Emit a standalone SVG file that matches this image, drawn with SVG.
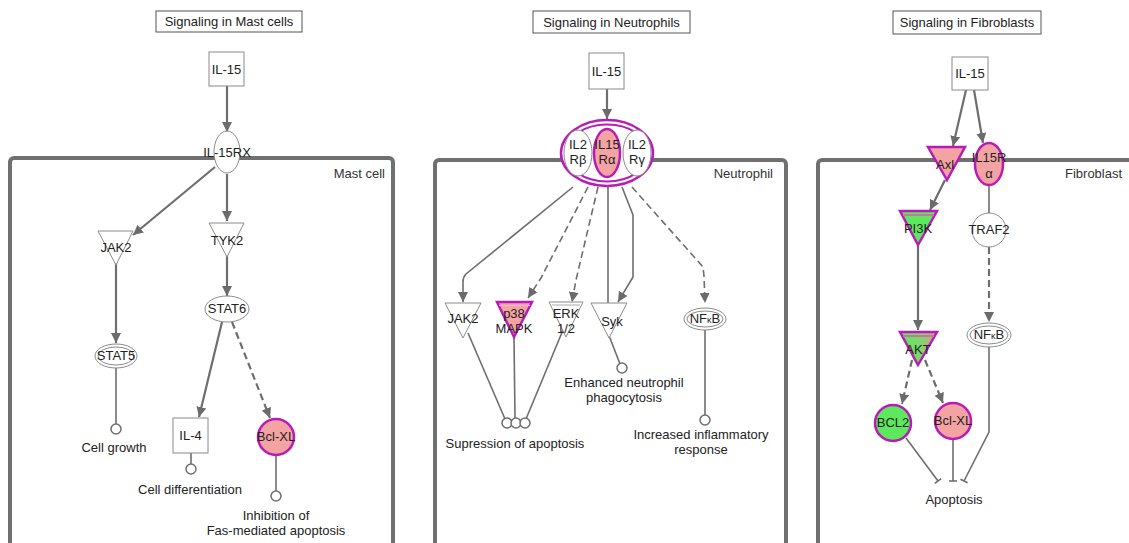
<svg xmlns="http://www.w3.org/2000/svg" width="1129" height="543" viewBox="0 0 1129 543">
<style>
text{font-family:"Liberation Sans",Arial,sans-serif;font-size:13px;fill:#222;text-anchor:middle}
.lbl{font-size:13px;fill:#333}
.cell{fill:none;stroke:#707070;stroke-width:4}
.box{fill:#fff;stroke:#555;stroke-width:1}
.node{fill:#fff;stroke:#8a8a8a;stroke-width:1}
.hi{fill:#f4a3a3;stroke:#b81cb8;stroke-width:2.5}
.gr{fill:#5ee85e;stroke:#b81cb8;stroke-width:2.5}
.e{fill:none;stroke:#6e6e6e;stroke-width:1.6}
.e2{fill:none;stroke:#6e6e6e;stroke-width:2.2}
.d{stroke-dasharray:7,4}
.end{fill:#fff;stroke:#6e6e6e;stroke-width:1.5}
</style>
<defs>
<marker id="arr" viewBox="0 0 10 10" refX="10" refY="5" markerWidth="10" markerHeight="10" markerUnits="userSpaceOnUse" orient="auto"><path d="M0,0 L10,5 L0,10 z" fill="#6b6b6b"/></marker>
<linearGradient id="akt" x1="0" y1="0" x2="1" y2="0"><stop offset="0" stop-color="#5ee85e"/><stop offset="0.55" stop-color="#7fd86a"/><stop offset="1" stop-color="#d89a8a"/></linearGradient>
</defs>
<rect width="1129" height="543" fill="#fff"/>

<!-- cell compartments -->
<g id="compartments">
<rect class="cell" x="10" y="158" width="383" height="420" rx="4"/>
<text class="lbl" x="385" y="178" style="text-anchor:end">Mast cell</text>
<rect class="cell" x="435" y="160" width="351" height="420" rx="4"/>
<text class="lbl" x="773" y="178" style="text-anchor:end">Neutrophil</text>
<rect class="cell" x="818" y="160" width="400" height="420" rx="4"/>
<text class="lbl" x="1065" y="178" style="text-anchor:start">Fibroblast</text>
</g>

<!-- titles -->
<g id="titles">
<rect class="box" x="156" y="11" width="146" height="21"/>
<text x="229" y="26">Signaling in Mast cells</text>
<rect class="box" x="533" y="11" width="157" height="22"/>
<text x="611.5" y="26.5">Signaling in Neutrophils</text>
<rect class="box" x="893" y="11" width="148" height="23"/>
<text x="967" y="27">Signaling in Fibroblasts</text>
</g>

<!-- connectors -->
<g id="connectors">
<!-- mast -->
<line class="e2" x1="227" y1="86" x2="227" y2="132" marker-end="url(#arr)"/>
<line class="e2" x1="215" y1="167" x2="133" y2="235" marker-end="url(#arr)"/>
<line class="e2" x1="227" y1="174" x2="227" y2="221" marker-end="url(#arr)"/>
<line class="e2" x1="116" y1="262" x2="116" y2="343" marker-end="url(#arr)"/>
<line class="e2" x1="227" y1="255" x2="227" y2="296" marker-end="url(#arr)"/>
<line class="e" x1="116" y1="368" x2="116" y2="424"/>
<line class="e2" x1="222" y1="322" x2="199" y2="417" marker-end="url(#arr)"/>
<line class="e2 d" x1="232" y1="322" x2="270" y2="418" marker-end="url(#arr)"/>
<line class="e" x1="191" y1="453" x2="191" y2="464"/>
<line class="e" x1="276" y1="455" x2="276" y2="491"/>
<!-- neutrophil -->
<line class="e2" x1="607" y1="89" x2="607" y2="119" marker-end="url(#arr)"/>
<path class="e" d="M573,187 L466,274 Q463,277 463,282 L463,302" marker-end="url(#arr)"/>
<path class="e d" d="M588,187 L541,278 L528,298" marker-end="url(#arr)"/>
<path class="e d" d="M598,187 L576,280 L572,302" marker-end="url(#arr)"/>
<line class="e" x1="608" y1="187" x2="608" y2="303"/>
<path class="e" d="M622,187 L633,215 L633,277 L618,302" marker-end="url(#arr)"/>
<path class="e d" d="M632,187 L703,267 L704,276 L705,303" marker-end="url(#arr)"/>
<line class="e" x1="468" y1="333" x2="505" y2="419"/>
<line class="e" x1="514" y1="337" x2="515" y2="418"/>
<line class="e" x1="563" y1="330" x2="526" y2="419"/>
<line class="e" x1="608" y1="333" x2="620" y2="364"/>
<line class="e" x1="705" y1="330" x2="705" y2="415"/>
<!-- fibroblast -->
<line class="e2" x1="966" y1="90" x2="953" y2="146" marker-end="url(#arr)"/>
<line class="e2" x1="974" y1="90" x2="983" y2="143" marker-end="url(#arr)"/>
<line class="e2" x1="945" y1="180" x2="930" y2="210" marker-end="url(#arr)"/>
<line class="e" x1="989" y1="185" x2="989" y2="213"/>
<line class="e2" x1="918" y1="245" x2="918" y2="330" marker-end="url(#arr)"/>
<line class="e2 d" x1="989" y1="247" x2="989" y2="322" marker-end="url(#arr)"/>
<line class="e2 d" x1="912" y1="360" x2="902" y2="404" marker-end="url(#arr)"/>
<line class="e2 d" x1="925" y1="360" x2="943" y2="403" marker-end="url(#arr)"/>
<line class="e" x1="906" y1="438" x2="938" y2="481"/>
<line class="e" x1="934.8" y1="483.4" x2="941.2" y2="478.6"/>
<line class="e" x1="953" y1="439" x2="953" y2="481"/>
<line class="e" x1="949" y1="481" x2="957" y2="481"/>
<path class="e" d="M989,347 L989,432 L964,481"/>
<line class="e" x1="960.4" y1="479.2" x2="967.6" y2="482.8"/>
</g>

<!-- Mast cell nodes -->
<g id="mast-il15"><rect class="node" x="209" y="52" width="35" height="34"/><text x="226.5" y="74">IL-15</text></g>
<g id="mast-il15rx"><ellipse class="node" cx="227" cy="152" rx="13" ry="21"/><text x="227" y="157">IL-15RX</text></g>
<g id="mast-jak2"><polygon class="node" points="98,231 133,231 116,265"/><text x="116" y="252">JAK2</text></g>
<g id="mast-tyk2"><polygon class="node" points="209,223 244,223 227,257"/><text x="227" y="245">TYK2</text></g>
<g id="mast-stat5"><ellipse class="node" cx="116" cy="356" rx="21" ry="12"/><ellipse class="node" cx="116" cy="356" rx="18" ry="9"/><text x="116" y="360">STAT5</text></g>
<g id="mast-stat6"><ellipse class="node" cx="227" cy="309" rx="22" ry="13"/><text x="227" y="313">STAT6</text></g>
<g id="mast-il4"><rect class="node" x="173" y="418" width="35" height="35"/><text x="190.5" y="440">IL-4</text></g>
<g id="mast-bclxl"><circle class="hi" cx="276" cy="437" r="18"/><text x="276" y="441">Bcl-XL</text></g>
<g id="mast-cellgrowth"><circle class="end" cx="116" cy="429" r="5"/><text x="114" y="452">Cell growth</text></g>
<g id="mast-celldiff"><circle class="end" cx="191" cy="469" r="5"/><text x="190" y="494">Cell differentiation</text></g>
<g id="mast-inhib"><circle class="end" cx="276" cy="496" r="5"/><text x="276" y="520">Inhibition of</text><text x="276" y="535">Fas-mediated apoptosis</text></g>

<!-- Neutrophil nodes -->
<g id="neu-il15"><rect class="node" x="589" y="53" width="35" height="36"/><text x="606.5" y="76">IL-15</text></g>
<g id="neu-complex">
<ellipse cx="607" cy="153" rx="46" ry="33" fill="#fff" stroke="#b81cb8" stroke-width="2.5"/>
<ellipse cx="607" cy="153" rx="41.5" ry="28.5" fill="#fff" stroke="#b81cb8" stroke-width="2"/>
<ellipse class="node" cx="578" cy="153" rx="14" ry="23"/>
<ellipse class="hi" cx="607" cy="153" rx="13" ry="24"/>
<ellipse class="node" cx="637" cy="153" rx="14" ry="23"/>
<text x="578" y="149">IL2</text><text x="578" y="164">Rβ</text>
<text x="607" y="149">IL15</text><text x="607" y="164">Rα</text>
<text x="637" y="149">IL2</text><text x="637" y="164">Rγ</text>
</g>
<g id="neu-jak2"><polygon class="node" points="445,303 481,303 463,338"/><text x="463" y="323">JAK2</text></g>
<g id="neu-p38"><polygon class="hi" points="497,302 532,302 514,337"/><line x1="499" y1="305.5" x2="530" y2="305.5" stroke="#e8b8e8" stroke-width="1"/><text x="514" y="318">p38</text><text x="514" y="333">MAPK</text></g>
<g id="neu-erk"><polygon class="node" points="549,302 583,302 566,337"/><line x1="552" y1="305" x2="580" y2="305" stroke="#aaa" stroke-width="1"/><text x="566" y="318">ERK</text><text x="566" y="333">1/2</text></g>
<g id="neu-syk"><polygon class="node" points="591,303 627,303 609,338"/><text x="612" y="326">Syk</text></g>
<g id="neu-nfkb"><ellipse class="node" cx="705" cy="319" rx="21" ry="11"/><ellipse class="node" cx="705" cy="319" rx="18" ry="8"/><text x="705" y="323">NF<tspan font-size="9">κ</tspan>B</text></g>
<g id="neu-supp"><circle class="end" cx="507" cy="423" r="5"/><circle class="end" cx="516" cy="423" r="5"/><circle class="end" cx="525" cy="423" r="5"/><text x="515" y="448">Supression of apoptosis</text></g>
<g id="neu-phago"><circle class="end" cx="622" cy="368" r="5"/><text x="624" y="387">Enhanced neutrophil</text><text x="624" y="402">phagocytosis</text></g>
<g id="neu-inflam"><circle class="end" cx="705" cy="420" r="5"/><text x="701" y="439">Increased inflammatory</text><text x="701" y="454">response</text></g>

<!-- Fibroblast nodes -->
<g id="fib-il15"><rect class="node" x="952" y="57" width="36" height="33"/><text x="970" y="78">IL-15</text></g>
<g id="fib-axl"><polygon class="hi" points="928,147 965,147 947,180"/><text x="945" y="169">Axl</text></g>
<g id="fib-il15ra"><ellipse class="hi" cx="989" cy="164" rx="14" ry="21"/><text x="989" y="162">IL15R</text><text x="989" y="178">α</text></g>
<g id="fib-pi3k"><polygon class="gr" points="900,211 937,211 918,245"/><line x1="903" y1="215" x2="934" y2="215" stroke="#c07aa0" stroke-width="2"/><text x="918" y="233">PI3K</text></g>
<g id="fib-traf2"><circle class="node" cx="989" cy="230" r="17"/><text x="989" y="234">TRAF2</text></g>
<g id="fib-akt"><polygon points="900,332 937,332 918,365" fill="url(#akt)" stroke="#b81cb8" stroke-width="2.5"/><line x1="903" y1="336" x2="934" y2="336" stroke="#c07aa0" stroke-width="2"/><text x="918" y="354">AKT</text></g>
<g id="fib-nfkb"><ellipse class="node" cx="989" cy="335" rx="22" ry="12"/><ellipse class="node" cx="989" cy="335" rx="19" ry="9"/><text x="989" y="339">NF<tspan font-size="9">κ</tspan>B</text></g>
<g id="fib-bcl2"><circle class="gr" cx="893" cy="423" r="18"/><text x="893" y="427">BCL2</text></g>
<g id="fib-bclxl"><circle class="hi" cx="953" cy="421" r="18"/><text x="953" y="425">Bcl-XL</text></g>
<g id="fib-apoptosis"><text x="954" y="504">Apoptosis</text></g>
</svg>
